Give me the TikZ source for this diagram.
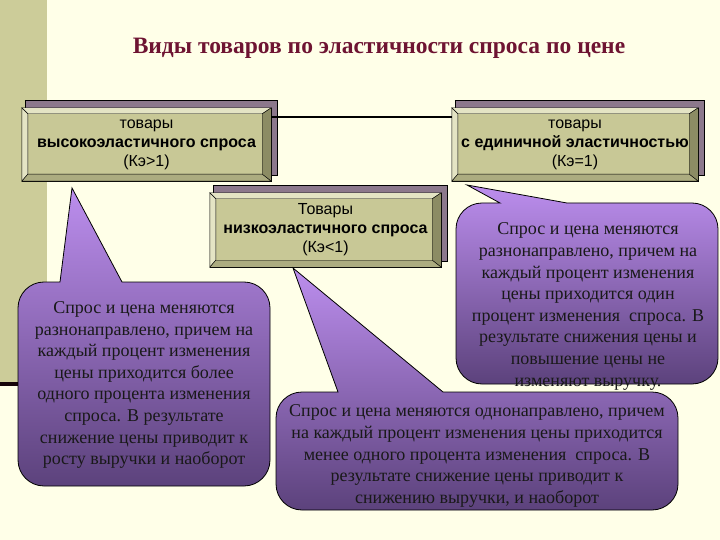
\documentclass[tikz,border=0pt]{standalone}
\usepackage{fontspec}
\setmainfont{Liberation Serif}
\newfontfamily\boxfont{Liberation Sans}
\usetikzlibrary{calc}
\pgfdeclarelayer{background}
\pgfsetlayers{background,main}
\definecolor{paper}{RGB}{255,255,232}
\definecolor{strip}{RGB}{204,204,153}
\definecolor{khaki}{RGB}{200,200,150}
\definecolor{khakilight}{RGB}{228,228,196}
\definecolor{khakimid}{RGB}{172,172,128}
\definecolor{khakidark}{RGB}{140,140,100}
\definecolor{mauve}{RGB}{140,120,140}
\definecolor{lilac}{RGB}{188,142,238}
\definecolor{plum}{RGB}{92,66,124}
\definecolor{maroon}{RGB}{110,20,50}
\tikzstyle{goods}=[inner sep=0pt,minimum height=73pt,align=center,font=\boxfont\fontsize{16}{19}\selectfont]
\tikzstyle{note}=[inner sep=0pt,align=center,text=black!90,font=\fontsize{18}{21.6}\selectfont]
\tikzstyle{bubble}=[draw=black,line width=0.8pt,top color=lilac,bottom color=plum]
\tikzstyle{link}=[draw,line width=1.6pt]
% box face with bevels and shadow, under the text
\newcommand{\bevel}[1]{%
  \begin{pgfonlayer}{background}
    \draw[fill=mauve] ($(#1.north west)+(3,-8)$) rectangle ($(#1.south east)+(6,-6)$);
    \draw[fill=khaki] (#1.north west) rectangle (#1.south east);
    \draw[fill=khakilight] (#1.north west) -- (#1.north east) -- ($(#1.north east)+(-9,6)$) -- ($(#1.north west)+(6,6)$) -- cycle;
    \draw[fill=khakilight] (#1.north west) -- (#1.south west) -- ($(#1.south west)+(6,-7)$) -- ($(#1.north west)+(6,6)$) -- cycle;
    \draw[fill=khakidark] (#1.north east) -- (#1.south east) -- ($(#1.south east)+(-9,-7)$) -- ($(#1.north east)+(-9,6)$) -- cycle;
    \draw[fill=khakimid] (#1.south west) -- (#1.south east) -- ($(#1.south east)+(-9,-7)$) -- ($(#1.south west)+(6,-7)$) -- cycle;
  \end{pgfonlayer}}
% rounded box with a pointer: #1,#2 top left, #3,#4 bottom right, #5/#6 pointer base, #7 tip
\newcommand{\speech}[7]{%
  \path[bubble] (#5,#2) -- (#7) -- (#6,#2) [rounded corners=26pt] -- (#3,#2) -- (#3,#4) -- (#1,#4) -- (#1,#2)
    [sharp corners] -- cycle;}

\begin{document}
\begin{tikzpicture}[x=1pt,y=-1pt]
    \useasboundingbox (0,0) rectangle (720,540);
    \begin{pgfonlayer}{background}
        \fill[paper] (0,0) rectangle (720,540);
        \fill[strip] (0,0) rectangle (47,382);
        \fill[black!80!maroon] (0,382) rectangle (120,386);
    \end{pgfonlayer}
    % title
    \node[font=\bfseries\fontsize{23.5}{26}\selectfont,text=maroon] (title) at (379,48)
        {Виды товаров по эластичности спроса по цене};
    % the three kinds of goods
    \node[goods,minimum width=249pt] (high) at (146.5,144.5)
        {товары\\\textbf{высокоэластичного спроса}\\(Кэ>1)};
    \node[goods,minimum width=246pt] (unit) at (575,144.5)
        {товары\\\textbf{с единичной эластичностью}\\(Кэ=1)};
    \node[goods,minimum width=231pt,minimum height=74pt] (low) at (325.5,230)
        {Товары\\\textbf{низкоэластичного спроса}\\(Кэ<1)};
    \bevel{high}
    \bevel{unit}
    \bevel{low}
    \path[link] ([yshift=-9pt]high.north east) -- ([yshift=-9pt]unit.north west);
    % pointers start just under the boxes
    \coordinate (tipA) at (72,188);
    \coordinate (tipB) at (467,185);
    \coordinate (tipC) at (293,268);
    \speech{18}{282}{270}{486}{60}{122}{tipA}
    \node[note] (descA) at (144,385)
        {Спрос и цена меняются\\разнонаправлено, причем на\\каждый процент изменения\\цены приходится более\\одного процента изменения\\спроса. В результате\\снижение цены приводит к\\росту выручки и наоборот};
    \speech{456}{203}{718}{384}{500}{567}{tipB}
    \node[note] (descB) at (588,306.5)
        {Спрос и цена меняются\\разнонаправлено, причем на\\каждый процент изменения\\цены приходится один\\процент изменения \ спроса. В\\результате снижения цены и\\повышение цены не\\изменяют выручку.};
    \speech{276}{392}{678}{510}{338}{443}{tipC}
    \node[note] (descC) at (477,456)
        {Спрос и цена меняются однонаправлено, причем\\на каждый процент изменения цены приходится\\менее одного процента изменения \ спроса. В\\результате снижение цены приводит к\\снижению выручки, и наоборот};
\end{tikzpicture}
\end{document}
